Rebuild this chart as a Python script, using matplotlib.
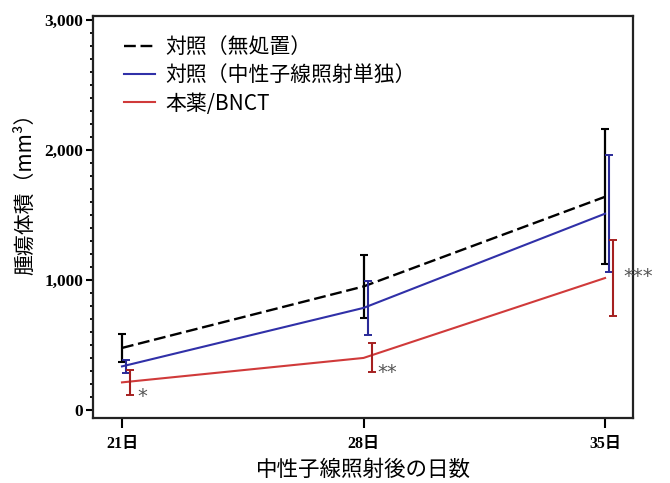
import matplotlib.pyplot as plt
import numpy as np
from matplotlib.ticker import MultipleLocator, FuncFormatter

# ------------------------------------------------------------
# data
# ------------------------------------------------------------
days = [21, 28, 35]
day_labels = ["21日", "28日", "35日"]

ctrl_mean = [477, 950, 1640]
ctrl_err = [108, 242, 520]

neutron_mean = [335, 785, 1510]
neutron_err = [50, 205, 450]

bnct_mean = [212, 400, 1015]
bnct_err = [95, 112, 292]

sig_marks = ["*", "**", "***"]

# ------------------------------------------------------------
# fonts
# ------------------------------------------------------------
plt.rcParams['font.family'] = ['Liberation Serif', 'Noto Sans CJK JP']
jp = ['Noto Sans CJK JP', 'Liberation Serif']
num = ['Liberation Serif', 'Noto Sans CJK JP']

fig = plt.figure(figsize=(6.7, 4.83), dpi=100)
ax = fig.add_axes([0.1388, 0.1346, 0.806, 0.832])

x = np.array(days, dtype=float)
off = 0.12  # small horizontal shift so the error bars don't overlap

ax.plot(x, ctrl_mean, color='black', ls=(0, (5, 2)), lw=1.7, label="対照（無処置）")
ax.errorbar(x, ctrl_mean, yerr=ctrl_err, fmt='none', ecolor='black',
            elinewidth=1.6, capsize=3, capthick=1.5)

ax.plot(x, neutron_mean, color='#3030a8', lw=1.5, label="対照（中性子線照射単独）")
ax.errorbar(x + off, neutron_mean, yerr=neutron_err, fmt='none', ecolor='#2a2a98',
            elinewidth=1.5, capsize=3, capthick=1.4)

ax.plot(x, bnct_mean, color='#d03a3a', lw=1.5, label="本薬/BNCT")
ax.errorbar(x + 2 * off, bnct_mean, yerr=bnct_err, fmt='none', ecolor='#a52020',
            elinewidth=1.5, capsize=3, capthick=1.4)

# significance marks next to the BNCT points
sig_pos = [(21.58, 105), (28.70, 285), (35.96, 1025)]
for (sx, sy), m in zip(sig_pos, sig_marks):
    ax.text(sx, sy, m, color='#555555', fontsize=14, family='DejaVu Sans',
            ha='center', va='center', clip_on=False)

# axes
ax.set_xlim(20.16, 35.81)
ax.set_ylim(-62, 3030)
ax.set_xticks(days)
ax.set_xticklabels(day_labels, fontweight='bold', fontsize=11.5, family=num)
ax.yaxis.set_major_locator(MultipleLocator(1000))
ax.yaxis.set_minor_locator(MultipleLocator(100))
ax.yaxis.set_major_formatter(FuncFormatter(lambda v, p: f"{int(v):,}"))
for t in ax.get_yticklabels():
    t.set_fontweight('bold')
    t.set_fontsize(12.5)
    t.set_family(num)

ax.tick_params(axis='x', which='major', direction='out', length=7, width=1.5, pad=6)
ax.tick_params(axis='y', which='major', direction='out', length=5, width=1.5, pad=2)
ax.tick_params(axis='y', which='minor', direction='out', length=2.5, width=1.3)
for s in ax.spines.values():
    s.set_linewidth(1.6)
    s.set_color('#222222')

ax.set_ylabel("腫瘍体積（mm³）", fontsize=15, family=jp)
ax.yaxis.set_label_coords(-0.105, 0.57)
ax.set_xlabel("中性子線照射後の日数", fontsize=15.5, family=jp, labelpad=5)

leg = ax.legend(loc='upper left', bbox_to_anchor=(0.022, 0.997), frameon=False,
                prop={'family': jp, 'size': 15}, handlelength=1.5,
                handletextpad=0.5, labelspacing=0.3)

fig.savefig("out.png", dpi=100)
